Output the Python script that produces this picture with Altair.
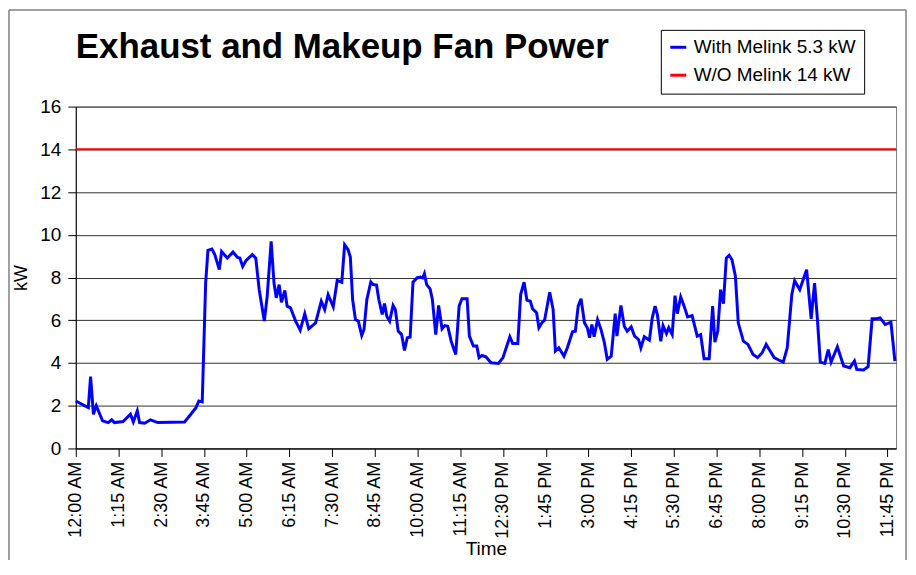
import altair as alt
import pandas as pd

# ---- data ----
blue_minutes = [0, 22, 26, 31, 36, 47, 57, 63, 68, 83, 96, 101, 108, 112, 121, 131, 144, 191, 202, 211,
                216, 222, 228, 232, 239, 244, 252, 256, 266, 276, 284, 288, 293, 299, 310, 316, 322, 331,
                336, 343, 348, 352, 357, 361, 367, 371, 377, 386, 394, 402, 409, 421, 431, 437, 443, 452,
                459, 467, 472, 478, 482, 486, 491, 496, 502, 506, 511, 518, 522, 528, 532, 538, 542, 546,
                551, 557, 561, 566, 572, 577, 582, 587, 592, 599, 605, 609, 612, 616, 622, 626, 632, 637,
                643, 648, 653, 659, 667, 673, 678, 687, 691, 698, 704, 708, 713, 720, 729, 742, 750, 762,
                767, 776, 781, 787, 792, 798, 802, 809, 813, 819, 823, 832, 838, 842, 848, 857, 863, 872,
                877, 882, 887, 893, 898, 902, 906, 910, 916, 922, 928, 933, 940, 947, 950, 957, 963, 968,
                975, 981, 988, 992, 998, 1007, 1012, 1017, 1021, 1027, 1031, 1037, 1041, 1047, 1052, 1056,
                1062, 1068, 1074, 1082, 1091, 1097, 1103, 1112, 1118, 1122, 1127, 1132, 1137, 1142, 1147,
                1152, 1158, 1163, 1172, 1180, 1189, 1197, 1205, 1212, 1219, 1226, 1234, 1242, 1249, 1257,
                1262, 1271, 1283, 1291, 1297, 1302, 1307, 1315, 1321, 1326, 1337, 1348, 1359, 1367, 1371,
                1383, 1391, 1398, 1406, 1412, 1421, 1431, 1438]
blue_kw = [2.22, 1.91, 3.36, 1.6, 2.0, 1.29, 1.21, 1.34, 1.21, 1.26, 1.6, 1.24, 1.76, 1.21, 1.18, 1.34,
           1.21, 1.24, 1.6, 1.91, 2.22, 2.18, 7.74, 9.27, 9.33, 9.07, 8.37, 9.22, 8.91, 9.19, 8.94, 8.91,
           8.52, 8.8, 9.07, 8.91, 7.43, 5.96, 7.12, 9.69, 7.74, 7.05, 7.67, 6.84, 7.4, 6.66, 6.58, 5.96,
           5.54, 6.31, 5.6, 5.88, 6.89, 6.5, 7.2, 6.63, 7.87, 7.78, 9.53, 9.3, 8.96, 6.97, 6.03, 5.96,
           5.29, 5.57, 6.97, 7.79, 7.67, 7.65, 6.97, 6.27, 6.78, 6.19, 5.96, 6.69, 6.5, 5.49, 5.33, 4.59,
           5.18, 5.21, 7.78, 7.98, 8.02, 7.98, 8.18, 7.67, 7.47, 6.97, 5.33, 6.69, 5.6, 5.75, 5.72, 5.02,
           4.4, 6.66, 7.01, 7.01, 5.26, 4.79, 4.79, 4.25, 4.35, 4.29, 4.01, 3.98, 4.25, 5.23, 4.91, 4.91,
           7.2, 7.78, 6.94, 6.89, 6.53, 6.35, 5.65, 5.91, 6.0, 7.31, 6.5, 4.56, 4.71, 4.32, 4.71, 5.46,
           5.49, 6.66, 7.01, 5.88, 5.65, 5.18, 5.8, 5.23, 6.03, 5.57, 4.95, 4.17, 4.32, 6.31, 5.26, 6.69,
           5.72, 5.49, 5.69, 5.26, 5.1, 4.71, 5.23, 5.07, 6.11, 6.66, 6.27, 5.02, 5.75, 5.38, 5.65, 5.33,
           7.15, 6.31, 7.09, 6.66, 6.16, 6.22, 5.26, 5.33, 4.2, 4.2, 6.66, 4.98, 5.49, 7.43, 6.78, 8.91,
           9.04, 8.83, 8.06, 5.88, 5.02, 4.87, 4.4, 4.25, 4.48, 4.87, 4.56, 4.25, 4.14, 4.04, 4.71, 7.2,
           7.85, 7.43, 8.37, 6.07, 7.74, 6.03, 4.04, 3.98, 4.63, 4.04, 4.76, 3.86, 3.78, 4.09, 3.7, 3.67,
           3.83, 6.07, 6.07, 6.11, 5.8, 5.91, 4.09]
red_minutes = [0, 1440]
red_kw = [14, 14]

series_names = ["With Melink 5.3 kW", "W/O Melink 14 kW"]
series_colors = ["#0000FF", "#FF0000"]

tick_minutes = [0, 75, 150, 225, 300, 375, 450, 525, 600, 675, 750, 825, 900, 975, 1050, 1125,
                1200, 1275, 1350, 1425]
tick_labels = ["12:00 AM", "1:15 AM", "2:30 AM", "3:45 AM", "5:00 AM", "6:15 AM", "7:30 AM",
               "8:45 AM", "10:00 AM", "11:15 AM", "12:30 PM", "1:45 PM", "3:00 PM", "4:15 PM",
               "5:30 PM", "6:45 PM", "8:00 PM", "9:15 PM", "10:30 PM", "11:45 PM"]
y_ticks = [0, 2, 4, 6, 8, 10, 12, 14, 16]

# ---- chart ----
REG = "Liberation Sans, Arial, sans-serif"

blue_df = pd.DataFrame({"minute": blue_minutes, "kW": blue_kw, "series": series_names[0]})
red_df = pd.DataFrame({"minute": red_minutes, "kW": red_kw, "series": series_names[1]})

label_expr = ("[" + ",".join("'" + t + "'" for t in tick_labels) + "][indexof(["
              + ",".join(str(m) for m in tick_minutes) + "], datum.value)]")

x_enc = alt.X("minute:Q",
              scale=alt.Scale(domain=[0, 1440], nice=False, zero=False),
              axis=alt.Axis(values=tick_minutes, labelExpr=label_expr, labelAngle=-90,
                            labelAlign="right", labelBaseline="middle", labelFont=REG,
                            labelFontSize=18, labelColor="black", labelPadding=5,
                            labelOverlap=False, tickSize=8, tickColor="black",
                            domainColor="black", grid=False, title="Time",
                            titleFont=REG, titleFontSize=19, titleFontWeight="normal",
                            titleColor="black", titleX=411.5, titleY=110,
                            titleBaseline="bottom", titleAlign="center"))
y_enc = alt.Y("kW:Q",
              scale=alt.Scale(domain=[0, 16], nice=False),
              axis=alt.Axis(values=y_ticks, grid=True, gridColor="#333333", gridWidth=1,
                            labelFont=REG, labelFontSize=19, labelColor="black",
                            labelPadding=7, tickSize=8, tickColor="black", domainColor="black",
                            title="kW", titleFont=REG, titleFontSize=18,
                            titleFontWeight="normal", titleColor="black", titleX=-54,
                            titleY=171.5, titleBaseline="middle", titleAlign="center",
                            titleAngle=-90))
color_enc = alt.Color("series:N",
                      scale=alt.Scale(domain=series_names, range=series_colors),
                      legend=alt.Legend(title=None, orient="none", legendX=587, legendY=-77,
                                        strokeColor="black", fillColor="white", padding=8,
                                        symbolType="stroke", symbolSize=256,
                                        symbolStrokeWidth=3, labelFont=REG,
                                        labelFontSize=19, labelColor="black", rowPadding=8,
                                        labelOffset=6, labelLimit=400))

red = alt.Chart(red_df).mark_line(strokeWidth=2).encode(x=x_enc, y=y_enc, color=color_enc)
blue = alt.Chart(blue_df).mark_line(strokeWidth=3).encode(x=x_enc, y=y_enc, color=color_enc)

frame_src = alt.Data(values=[{}])
left_b = alt.Chart(frame_src).mark_rule(color="#808080", strokeWidth=1.5).encode(
    x=alt.value(-67), y=alt.value(-97), y2=alt.value(460))
right_b = alt.Chart(frame_src).mark_rule(color="#808080", strokeWidth=1.5).encode(
    x=alt.value(833), y=alt.value(-97), y2=alt.value(460))
top_b = alt.Chart(frame_src).mark_rule(color="#808080", strokeWidth=1.5).encode(
    x=alt.value(-67), x2=alt.value(833), y=alt.value(-97))

chart = alt.layer(red, blue, left_b, right_b, top_b).properties(
    width=823, height=343,
    title=alt.TitleParams("Exhaust and Makeup Fan Power", font=REG, fontSize=35,
                          fontWeight="bold", color="black", anchor="start", frame="group",
                          offset=-56),
    padding={"left": 68, "top": 98, "right": 12, "bottom": 111},
    autosize=alt.AutoSizeParams(type="none"),
    background="white",
).configure_view(stroke="#808080", strokeWidth=1)

chart.save("out.html", embed_options={"renderer": "svg", "actions": False})
